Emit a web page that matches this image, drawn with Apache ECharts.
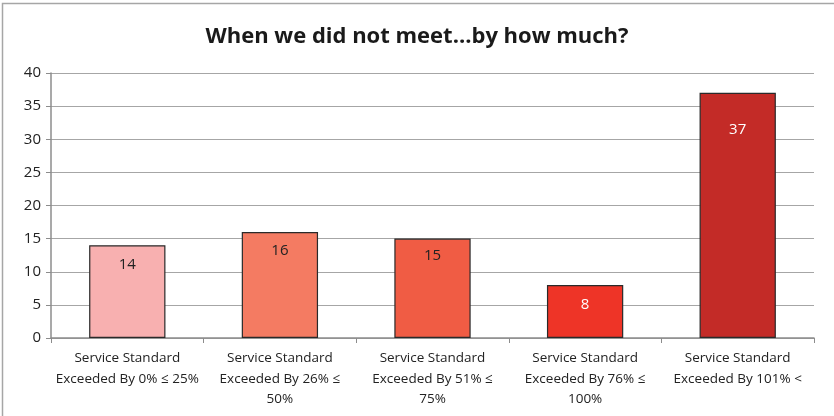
<!DOCTYPE html>
<html><head><meta charset="utf-8">
<script src="https://cdn.jsdelivr.net/npm/echarts@6/dist/echarts.min.js"></script>
<style>html,body{margin:0;padding:0;background:#fff}#c{width:834px;height:416px}</style>
</head><body><div id="c"></div>
<script>
var categories = [
  "Service Standard\nExceeded By 0% \u2264 25%",
  "Service Standard\nExceeded By 26% \u2264\n50%",
  "Service Standard\nExceeded By 51% \u2264\n75%",
  "Service Standard\nExceeded By 76% \u2264\n100%",
  "Service Standard\nExceeded By 101% <"
];
var values = [14, 16, 15, 8, 37];
var barColors = ["#F8B0B0", "#F47B62", "#F05C44", "#EE3427", "#C32B27"];
var labelColors = ["#222222", "#222222", "#222222", "#ffffff", "#ffffff"];
var labelDistances = [12, 11, 10, 12, 29];

var chart = echarts.init(document.getElementById('c'));
chart.setOption({
  animation: false,
  title: {
    text: "When we did not meet...by how much?",
    left: 'center', top: 21,
    textStyle: {fontFamily: 'Open Sans', fontWeight: 'bold', fontSize: 22, color: '#1a1a1a'}
  },
  graphic: [{
    type: 'polyline', shape: {points: [[2.5, 420], [2.5, 3.5], [840, 3.5]]},
    style: {stroke: '#a6a6a6', lineWidth: 1.5, fill: null}
  }],
  grid: {left: 51, right: 20, top: 73, bottom: 78},
  xAxis: {
    type: 'category', data: categories,
    axisLine: {lineStyle: {color: '#8c8c8c', width: 1.5}},
    axisTick: {show: true, length: 5, lineStyle: {color: '#8c8c8c'}},
    axisLabel: {interval: 0, color: '#222', fontFamily: 'Open Sans', fontSize: 13.5, lineHeight: 20.5, margin: 10}
  },
  yAxis: {
    type: 'value', min: 0, max: 40, interval: 5,
    axisLine: {show: true, lineStyle: {color: '#8c8c8c', width: 1.5}},
    axisTick: {show: true, length: 5, lineStyle: {color: '#8c8c8c'}},
    splitLine: {lineStyle: {color: '#a6a6a6', width: 1.2}},
    axisLabel: {color: '#222', fontFamily: 'Open Sans', fontSize: 15, margin: 10}
  },
  series: [{
    type: 'bar', barWidth: '50%',
    data: values.map(function (v, i) {
      return {value: v, itemStyle: {color: barColors[i]},
              label: {color: labelColors[i], distance: labelDistances[i]}};
    }),
    itemStyle: {borderColor: '#2a2a2a', borderWidth: 1.2},
    label: {show: true, position: 'insideTop', fontFamily: 'Open Sans', fontSize: 15}
  }]
});
</script></body></html>
